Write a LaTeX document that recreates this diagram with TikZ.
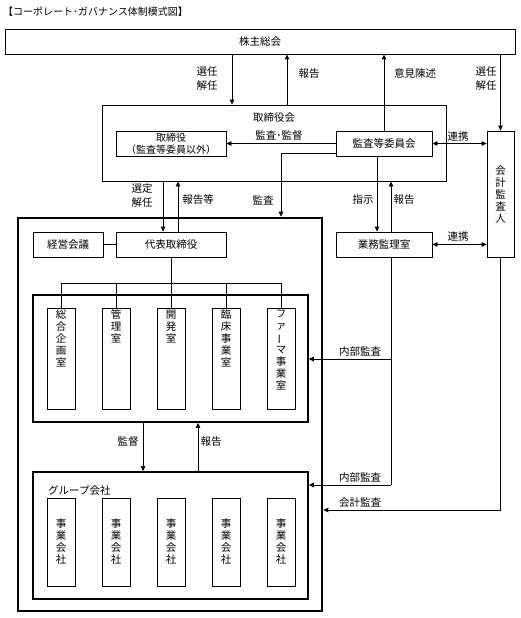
\documentclass[tikz,border=0pt]{standalone}
\usepackage{fontspec}
\setmainfont{Noto Sans CJK JP}
\usepackage{graphicx}
\usetikzlibrary{arrows.meta}
\begin{document}
\begin{tikzpicture}[x=1pt,y=-1pt,
 every node/.style={font=\fontsize{10.5}{12}\selectfont},
 ln/.style={line width=0.8pt},
 arr/.style={ln,-{Triangle[length=5pt,width=4.5pt]}},
 arrb/.style={ln,{Triangle[length=5pt,width=4.5pt]}-{Triangle[length=5pt,width=4.5pt]}},
 box/.style={draw,ln,inner sep=0pt,minimum height=25pt,align=center},
 vbox/.style={draw,ln,inner sep=0pt,minimum width=28pt},
 lbl/.style={inner sep=0pt,align=center,font=\fontsize{10.5}{14}\selectfont},
 vtxt/.style={inner sep=0pt,align=center,font=\fontsize{10.5}{12}\selectfont}]
\useasboundingbox (0,0) rectangle (520,618);
\node[lbl,anchor=west,font=\fontsize{10}{12}\selectfont] (title) at (3,12) {【コーポレート･ガバナンス体制模式図】};

% top level
\node[box,minimum width=510pt] (sh) at (260,41.5) {株主総会};
\node[draw,ln,minimum width=344pt,minimum height=76pt,inner sep=0pt] (bod) at (274,143) {};
\node[lbl] (bodl) at (274,118) {取締役会};
\node[box,minimum width=110pt,font=\fontsize{10}{12}\selectfont] (dir) at (171,143.5) {取締役\\（監査等委員以外）};
\node[box,minimum width=96pt] (ac) at (384,143.5) {監査等委員会};
\node[draw,ln,minimum width=27pt,minimum height=126pt,inner sep=0pt,align=center] (aud) at (500.5,194) {会\\計\\監\\査\\人};
\node[box,minimum width=96pt] (gk) at (384,244.5) {業務監理室};

% executive block
\node[draw,line width=2.6pt,minimum width=304pt,minimum height=393pt,inner sep=0pt] (big) at (170,414.5) {};
\node[box,minimum width=70pt] (km) at (68,244.5) {経営会議};
\node[box,minimum width=110pt] (ceo) at (171,244.5) {代表取締役};
\node[draw,line width=1.6pt,minimum width=275pt,minimum height=127pt,inner sep=0pt] (dept) at (170.5,358.5) {};
\node[vbox,minimum height=101pt] (d1) at (61,358.5) {};
\node[vbox,minimum height=101pt] (d2) at (116,358.5) {};
\node[vbox,minimum height=101pt] (d3) at (171,358.5) {};
\node[vbox,minimum height=101pt] (d4) at (226,358.5) {};
\node[vbox,minimum height=101pt] (d5) at (281,358.5) {};
\node[vtxt,anchor=north] (d1t) at ([yshift=-2pt]d1.north) {総\\合\\企\\画\\室};
\node[vtxt,anchor=north] (d2t) at ([yshift=-2pt]d2.north) {管\\理\\室};
\node[vtxt,anchor=north] (d3t) at ([yshift=-2pt]d3.north) {開\\発\\室};
\node[vtxt,anchor=north] (d4t) at ([yshift=-2pt]d4.north) {臨\\床\\事\\業\\室};
\node[vtxt,anchor=north] (d5t) at ([yshift=-2pt]d5.north) {フ\\ァ\\\rotatebox[origin=c]{90}{ー}\\マ\\事\\業\\室};

\node[draw,line width=1.6pt,minimum width=275pt,minimum height=127pt,inner sep=0pt] (grp) at (170.5,535.5) {};
\node[lbl,anchor=west] (grpl) at (48,491) {グループ会社};
\node[vbox,minimum height=88pt,align=center] (c1) at (61,542) {事\\業\\会\\社};
\node[vbox,minimum height=88pt,align=center] (c2) at (116,542) {事\\業\\会\\社};
\node[vbox,minimum height=88pt,align=center] (c3) at (171,542) {事\\業\\会\\社};
\node[vbox,minimum height=88pt,align=center] (c4) at (226,542) {事\\業\\会\\社};
\node[vbox,minimum height=88pt,align=center] (c5) at (281,542) {事\\業\\会\\社};

% helper x positions
\coordinate (xa) at (232,0);
\coordinate (xb) at (287,0);
\coordinate (xd) at (163,0);
\coordinate (xe) at (178,0);
\coordinate (xf) at (377,0);
\coordinate (xg) at (391,0);
\coordinate (xh) at (143,0);
\coordinate (xi) at (198,0);
\coordinate (xk) at (281,0);
\coordinate (bus) at (171,283);
\coordinate (ia1) at (391,359);
\coordinate (ia2) at (391,485);
\coordinate (ca) at (500.5,510);

% connectors
\draw[arr] (sh.south -| xa) -- (bod.north -| xa);
\draw[arr] (bod.north -| xb) -- (sh.south -| xb);
\draw[arr] (ac.north) -- (sh.south -| ac.north);
\draw[arr] (sh.south -| aud.north) -- (aud.north);
\draw[arr] (ac.west) -- (dir.east);
\draw[arrb] (ac.east) -- (ac.east -| aud.west);
\draw[arrb] (gk.east) -- (gk.east -| aud.west);
\draw[arr] ([yshift=-9.5pt]ac.west) -| (big.north -| xk);
\draw[arr] (bod.south -| xd) -- (ceo.north -| xd);
\draw[arr] (ceo.north -| xe) -- (bod.south -| xe);
\draw[arr] (ac.south -| xf) -- (gk.north -| xf);
\draw[arr] (gk.north -| xg) -- (bod.south -| xg);
\draw[ln] (km) -- (ceo);
\draw[ln] (ceo.south) -- (bus);
\draw[ln] (d1.north) -- (d1.north |- bus) -- (d5.north |- bus) -- (d5.north);
\draw[ln] (d2.north) -- (d2.north |- bus);
\draw[ln] (d3.north) -- (d3.north |- bus);
\draw[ln] (d4.north) -- (d4.north |- bus);
\draw[ln] (gk.south -| ia1) -- (ia2);
\draw[arr] (ia1) -- (ia1 -| dept.east);
\draw[arr] (ia2) -- (ia2 -| grp.east);
\draw[arr] (aud.south) -- (ca) -- (ca -| big.east);
\draw[arr] (dept.south -| xh) -- (grp.north -| xh);
\draw[arr] (grp.north -| xi) -- (dept.south -| xi);

% labels
\node[lbl] (l1) at (207,79) {選任\\解任};
\node[lbl] (l2) at (309,74) {報告};
\node[lbl] (l3) at (415,74) {意見陳述};
\node[lbl] (l4) at (486,79) {選任\\解任};
\node[lbl] (l5) at (279,136) {監査･監督};
\node[lbl] (l6) at (458,137) {連携};
\node[lbl] (l7) at (458,237) {連携};
\node[lbl] (l8) at (142,196) {選定\\解任};
\node[lbl] (l9) at (198,200) {報告等};
\node[lbl] (l10) at (263,200) {監査};
\node[lbl] (l11) at (363,200) {指示};
\node[lbl] (l12) at (404,200) {報告};
\node[lbl] (l13) at (360,352) {内部監査};
\node[lbl] (l14) at (360,478) {内部監査};
\node[lbl] (l15) at (360,503) {会計監査};
\node[lbl] (l16) at (128,442) {監督};
\node[lbl] (l17) at (211,442) {報告};
\end{tikzpicture}
\end{document}
